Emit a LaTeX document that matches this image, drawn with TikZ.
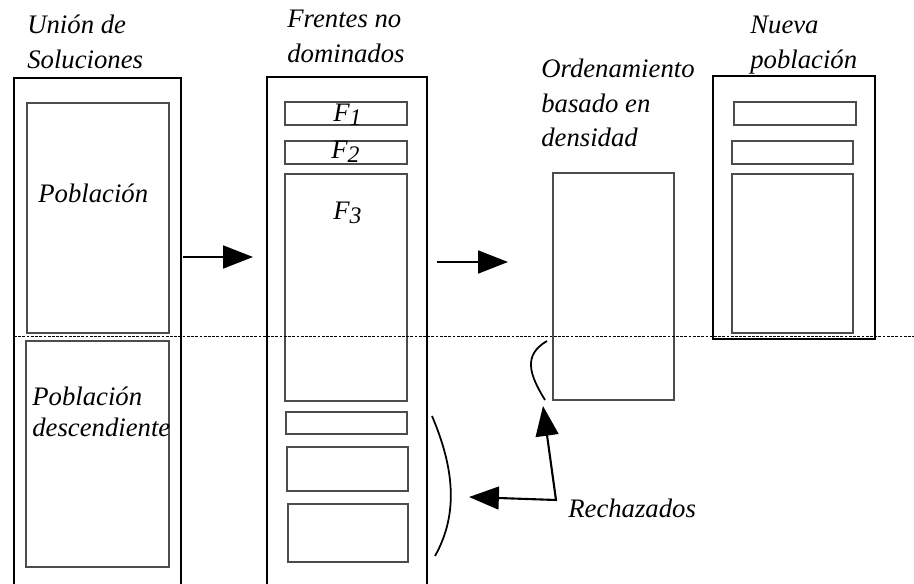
\documentclass[tikz,border=0pt]{standalone}
\usepackage{fontspec}
\setmainfont{Liberation Serif}
\usetikzlibrary{arrows.meta,positioning}
\tikzset{>={Triangle[length=17pt,width=13pt]}}

\newcommand{\frente}[1]{F\raisebox{-2pt}{\fontsize{13.5}{14}\selectfont #1}}

\begin{document}
\begin{tikzpicture}[x=0.02cm, y=-0.02cm,
                    marco/.style={line width=0.8pt, black},
                    caja/.style={line width=0.6pt, black!70},
                    flecha/.style={line width=1.2pt, black, ->},
                    llave/.style={line width=1pt, black},
                    corte/.style={line width=0.5pt, black, dash pattern=on 1.6pt off 0.8pt},
                    etiqueta/.style={anchor=base west, inner sep=0pt,
                                     font=\itshape\fontsize{15.2}{19.5}\selectfont},
                   ]

\useasboundingbox (0,0) rectangle (914,584);

% union de soluciones
\draw[marco] (14,584) -- (14,78) -- (181,78) -- (181,584);
\draw[caja] (27,103) rectangle (169,333);
\draw[caja] (26,341) rectangle (169,567);

\node[etiqueta] (union) at (27,34) {\begin{tabular}[t]{@{}l@{}}Unión de\\Soluciones\end{tabular}};
\node[etiqueta] (pob) at (38,203) {Población};
\node[etiqueta, font=\itshape\fontsize{15.2}{17.6}\selectfont] (desc) at (32,406)
     {\begin{tabular}[t]{@{}l@{}}Población\\descendiente\end{tabular}};

% frentes no dominados
\draw[marco] (267,584) -- (267,77) -- (427,77) -- (427,584);
\draw[caja] (285,102) rectangle (407,125);
\draw[caja] (285,141) rectangle (407,164);
\draw[caja] (285,174) rectangle (407,401);
\draw[caja] (286,412) rectangle (407,434);
\draw[caja] (287,447) rectangle (408,491);
\draw[caja] (288,504) rectangle (408,562);

\node[etiqueta] (frentes) at (287,28) {\begin{tabular}[t]{@{}l@{}}Frentes no\\dominados\end{tabular}};
\node[etiqueta] (f1) at (333,122) {\frente{1}};
\node[etiqueta] (f2) at (331,159) {\frente{2}};
\node[etiqueta] (f3) at (333,220) {\frente{3}};

% ordenamiento
\draw[caja] (553,173) rectangle (674,400);
\node[etiqueta] (orden) at (541,78) {\begin{tabular}[t]{@{}l@{}}Ordenamiento\\basado en\\densidad\end{tabular}};

% nueva poblacion
\draw[marco] (713,76) rectangle (875,339);
\draw[caja] (734,102) rectangle (856,125);
\draw[caja] (732,141) rectangle (853,164);
\draw[caja] (732,174) rectangle (853,333);
\node[etiqueta] (nueva) at (750,34) {\begin{tabular}[t]{@{}l@{}}Nueva\\población\end{tabular}};

% corte
\coordinate (c0) at (14,336);
\coordinate (c1) at (914,336);
\draw[corte] (c0) -- (c1);

% flechas
\coordinate (a0) at (183,257);
\coordinate (a1) at (253,257);
\coordinate (b0) at (437,262);
\coordinate (b1) at (508,262);
\draw[flecha] (a0) -- (a1);
\draw[flecha] (b0) -- (b1);

% rechazados
\draw[llave] (547,341) .. controls (523,355) and (529,374) .. (545,400);
\draw[llave] (432,416) .. controls (455,470) and (458,515) .. (435,556);

\node[etiqueta] (rech) at (568,518) {Rechazados};
\coordinate (esquina) at (556,500);
\coordinate (puntaA) at (469,497);
\coordinate (puntaB) at (543,406);
\draw[flecha, <->] (puntaA) -- (esquina) -- (puntaB);

\end{tikzpicture}
\end{document}
